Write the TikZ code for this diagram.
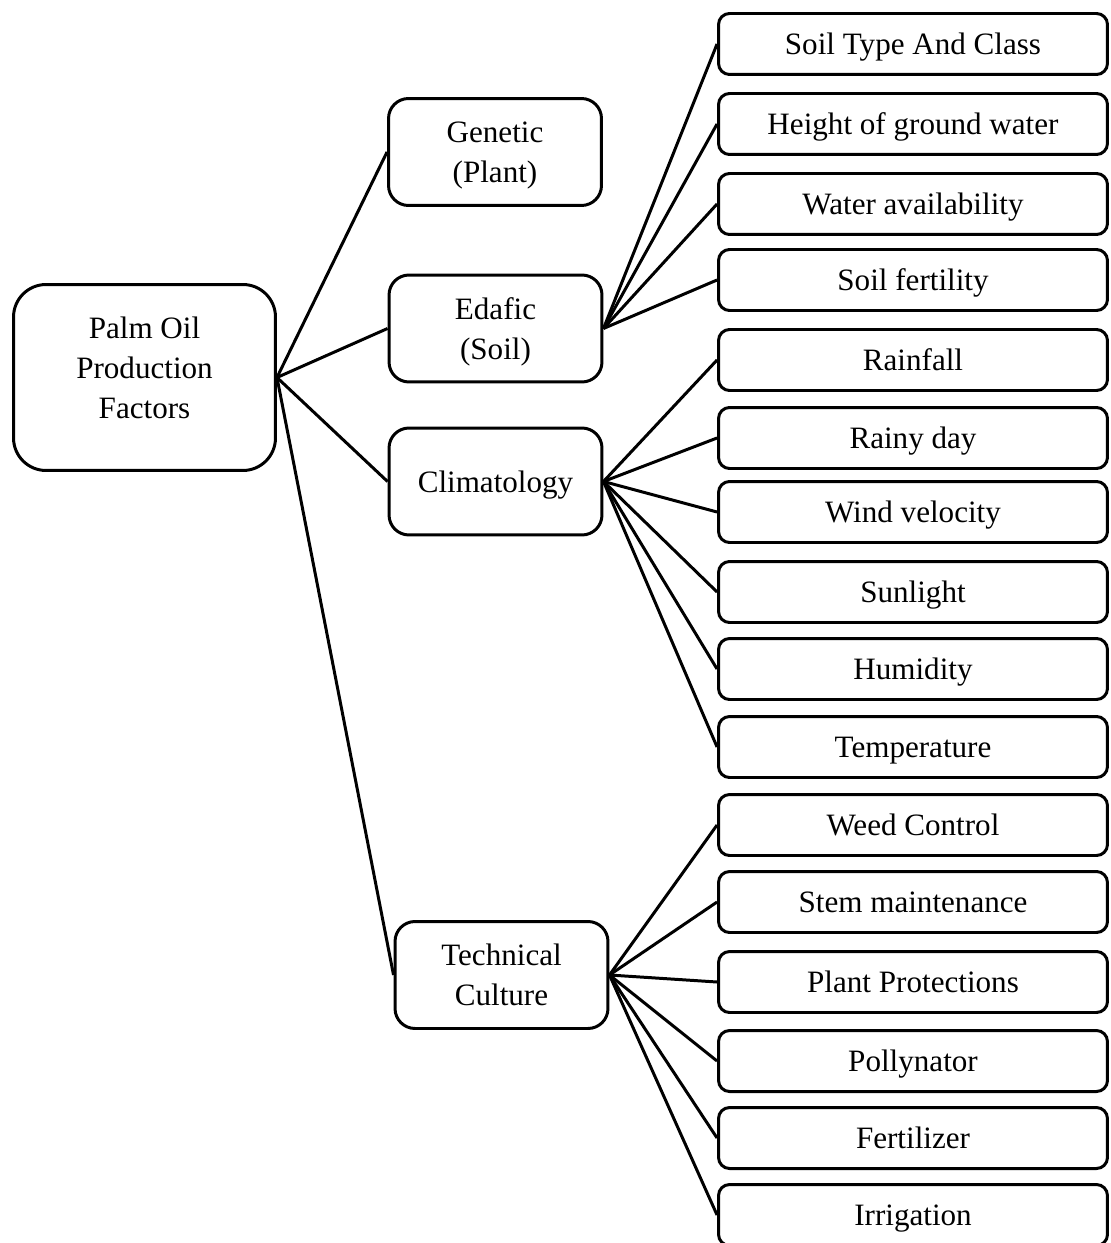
\documentclass[tikz,border=0pt]{standalone}
\usepackage{fontspec}
\setmainfont{Liberation Serif}

\begin{document}
\begin{tikzpicture}[x=0.02cm, y=-0.02cm, line width=1.7pt,
    every node/.style={font=\fontsize{17.7}{22.8}\selectfont, align=center, inner sep=0pt},
    rootbox/.style={draw, rounded corners=0.65cm, minimum width=5.24cm, minimum height=3.72cm, text depth=0.4cm},
    factorbox/.style={draw, rounded corners=0.4cm, minimum width=4.26cm, minimum height=2.14cm, text depth=0pt},
    itembox/.style={draw, rounded corners=0.22cm, minimum width=7.78cm, minimum height=1.22cm, text depth=0pt}]
  \useasboundingbox (0,0) rectangle (1110,1243);
  % main factor and its groups
  \node[rootbox] (root) at (144.5,377.5) {Palm Oil\\Production\\Factors};
  \node[factorbox] (genetic) at (495,152) {Genetic\\(Plant)};
  \node[factorbox] (edafic) at (495.5,328.5) {Edafic\\(Soil)};
  \node[factorbox] (climate) at (495.5,481.5) {Climatology};
  \node[factorbox] (technical) at (501.5,975) {Technical\\Culture};
  % items on the right
  \foreach \name/\y/\txt in {soiltype/44/Soil Type And Class, groundwater/124/Height of ground water,
      wateravail/204/Water availability, fertility/280/Soil fertility,
      rainfall/360/Rainfall, rainyday/438/Rainy day, wind/512/Wind velocity,
      sunlight/592/Sunlight, humidity/669/Humidity, temperature/747/Temperature,
      weed/825/Weed Control, stem/902/Stem maintenance, protection/982/Plant Protections,
      pollinator/1061/Pollynator, fertilizer/1138/Fertilizer, irrigation/1215/Irrigation}
    \node[itembox] (\name) at (913,\y) {\txt};
  % connectors
  \foreach \f in {genetic,edafic,climate,technical}
    \draw (root.east) -- (\f.west);
  \foreach \i in {soiltype,groundwater,wateravail,fertility}
    \draw (edafic.east) -- (\i.west);
  \foreach \i in {rainfall,rainyday,wind,sunlight,humidity,temperature}
    \draw (climate.east) -- (\i.west);
  \foreach \i in {weed,stem,protection,pollinator,fertilizer,irrigation}
    \draw (technical.east) -- (\i.west);
\end{tikzpicture}
\end{document}
